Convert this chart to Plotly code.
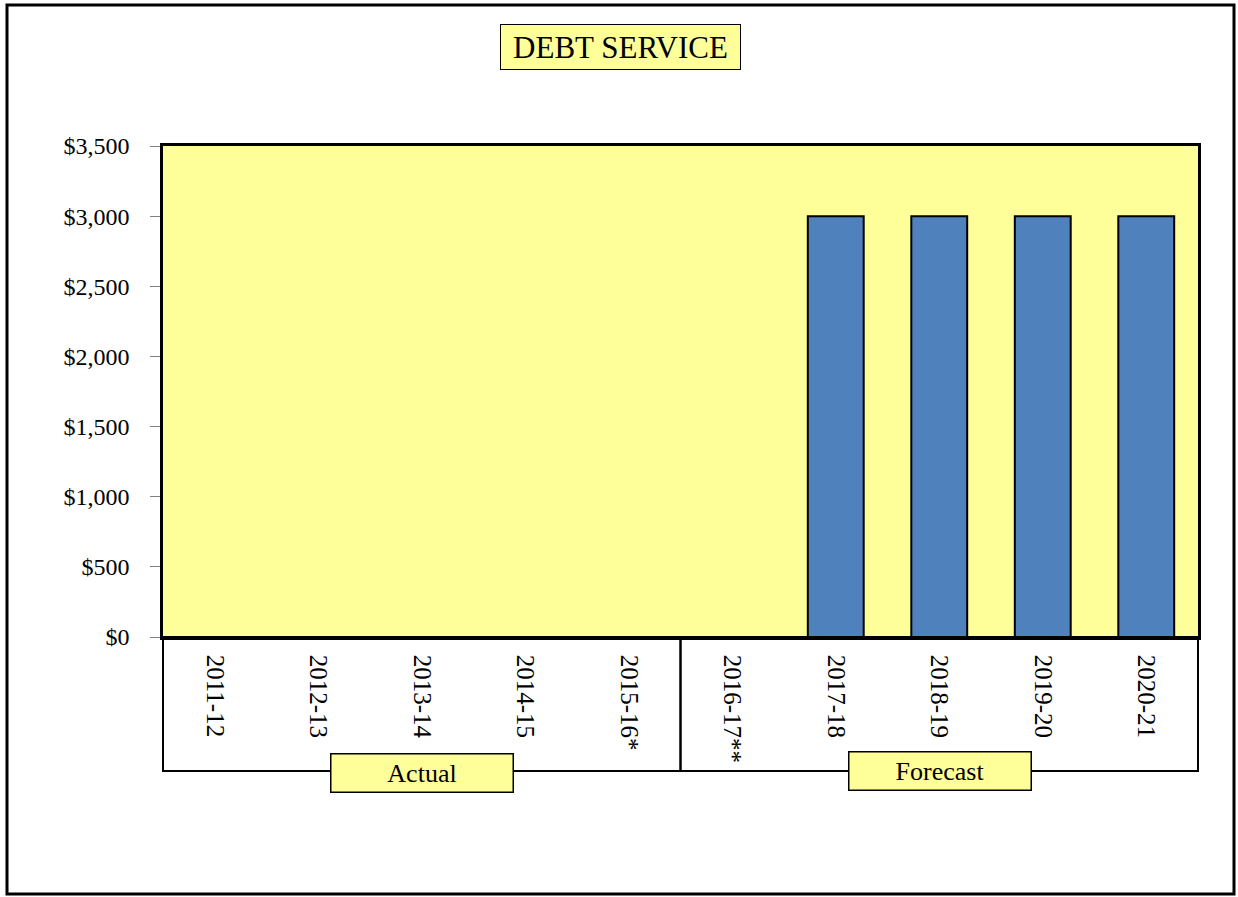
import plotly.graph_objects as go

categories = ["2011-12", "2012-13", "2013-14", "2014-15", "2015-16*",
              "2016-17**", "2017-18", "2018-19", "2019-20", "2020-21"]
debt_service = [0, 0, 0, 0, 0, 0, 3000, 3000, 3000, 3000]
y_ticks = [0, 500, 1000, 1500, 2000, 2500, 3000, 3500]
y_tick_labels = ["$" + format(v, ",") for v in y_ticks]

W, H = 1238, 897
L, R, T, B = 163, 1198, 146, 637
PW, PH = R - L, B - T

def px(x):
    return (x - L) / PW

def py(y):
    return (B - y) / PH

SERIF = "Palatino Linotype, Book Antiqua, Palatino, Liberation Serif, serif"
TIMES = "Liberation Serif, Times New Roman, serif"

fig = go.Figure()
fig.add_trace(go.Bar(
    x=categories, y=debt_service,
    marker=dict(color="#4F81BD", line=dict(color="black", width=2)),
    showlegend=False,
))

shapes = []
# outer border
shapes.append(dict(type="rect", xref="paper", yref="paper",
                   x0=px(7), x1=px(1234), y0=py(894), y1=py(5),
                   line=dict(color="black", width=3), fillcolor="rgba(0,0,0,0)", layer="below"))
# lower category box
shapes.append(dict(type="rect", xref="paper", yref="paper",
                   x0=0, x1=1, y0=py(771), y1=0,
                   line=dict(color="black", width=2), fillcolor="white", layer="below"))
shapes.append(dict(type="line", xref="paper", yref="paper",
                   x0=0.5, x1=0.5, y0=py(771), y1=0,
                   line=dict(color="black", width=2.5)))

annotations = [
    dict(text="DEBT SERVICE", xref="paper", yref="paper",
         x=px(620.5), y=py(47), xanchor="center", yanchor="middle",
         showarrow=False, font=dict(family=SERIF, size=31, color="black"),
         bgcolor="#FFFF99", bordercolor="black", borderwidth=1,
         borderpad=4, width=231, height=36),
    dict(text="Actual", xref="paper", yref="paper",
         x=px(422), y=py(773), xanchor="center", yanchor="middle",
         showarrow=False, font=dict(family=SERIF, size=26, color="black"),
         bgcolor="#FFFF99", bordercolor="black", borderwidth=1.5,
         borderpad=2, width=177, height=33),
    dict(text="Forecast", xref="paper", yref="paper",
         x=px(939.5), y=py(771), xanchor="center", yanchor="middle",
         showarrow=False, font=dict(family=SERIF, size=26, color="black"),
         bgcolor="#FFFF99", bordercolor="black", borderwidth=1.5,
         borderpad=2, width=177, height=33),
]

fig.update_layout(
    width=W, height=H,
    margin=dict(l=L, r=W - R, t=T, b=H - B),
    paper_bgcolor="white",
    plot_bgcolor="#FFFF99",
    bargap=0.46,
    shapes=shapes,
    annotations=annotations,
    xaxis=dict(
        type="category",
        tickangle=90,
        tickfont=dict(family=TIMES, size=25, color="black"),
        showline=True, linecolor="black", linewidth=2.5, mirror=True,
        ticks="", showgrid=False,
        ticklabelstandoff=10,
    ),
    yaxis=dict(
        range=[0, 3500],
        tickmode="array",
        tickvals=y_ticks,
        ticktext=y_tick_labels,
        tickfont=dict(family=SERIF, size=24, color="black"),
        showline=True, linecolor="black", linewidth=2.5, mirror=True,
        ticks="outside", ticklen=10, tickcolor="#808080", tickwidth=1,
        showgrid=False, zeroline=False,
        ticklabelstandoff=16,
    ),
)

fig.write_html("out.html", config={"displayModeBar": False},
               post_script="document.body.style.margin='0';document.body.style.overflow='hidden';")
